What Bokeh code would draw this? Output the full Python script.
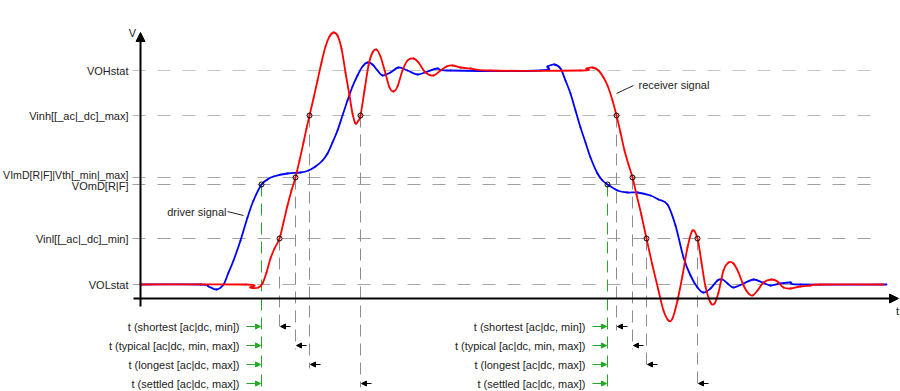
import numpy as np
from bokeh.plotting import figure
from bokeh.models import Range1d, Arrow, NormalHead, ColumnDataSource
from bokeh.core.properties import value
from bokeh.embed import file_html
from bokeh.resources import INLINE

# ---------------- data (t in time units, v in voltage units above t-axis) ----------
level_names = ["VOHstat", "Vinh[[_ac|_dc]_max]", "VImD[R|F]|Vth[_min|_max]",
               "VOmD[R|F]", "Vinl[[_ac|_dc]_min]", "VOLstat"]
level_v = [228, 183, 121, 114, 60, 14]
level_label_v = [228, 183, 124, 113, 60, 14]
level_label_size = ["11px", "11px", "10.6px", "11px", "11px", "11px"]
level_colors = ["#c4c4c4", "#b8b8b8", "#a8a8a8", "#a0a0a0", "#a0a0a0", "#a8a8a8"]

driver_t = [140, 200, 208, 216, 223, 228, 233, 240, 247, 253, 261, 267, 273, 287, 300,
            308, 315, 322, 327, 332, 337, 342, 347, 352, 357, 362, 367, 372, 377, 382,
            390, 398, 407, 417, 427, 437, 450, 540, 547, 554, 560, 565, 570, 575, 580,
            585, 590, 597, 602, 607, 617, 627, 637, 650, 658, 667, 675, 683, 690, 697,
            703, 710, 717, 722, 727, 733, 743, 753, 762, 770, 780, 790, 800, 886]
driver_v = [14, 14, 12, 9, 14, 26, 38, 58, 81, 98, 114, 119, 122, 125, 126,
            128, 132, 138, 145, 156, 168, 183, 198, 212, 223, 232, 236, 234, 228, 223,
            226, 231, 228, 224, 227, 230, 228, 228, 232, 234, 230, 218, 205, 188, 171,
            156, 141, 125, 118, 114, 108, 106, 106, 103, 99, 94, 73, 41, 23, 11,
            6, 10, 18, 19, 15, 11, 15, 19, 16, 13, 15, 16, 14, 14]

receiver_t = [140, 245, 250, 258, 262, 266, 270, 274, 279, 283, 287, 291, 295, 299, 303,
              306, 309, 313, 317, 321, 325, 329, 333, 337, 341, 345, 349, 352, 355, 358,
              360, 364, 368, 372, 376, 380, 385, 389, 393, 397, 402, 407, 413, 418, 425,
              433, 440, 446, 452, 460, 470, 490, 580, 586, 592, 598, 603, 607, 612, 616,
              620, 624, 628, 632, 636, 641, 646, 652, 658, 663, 668, 672, 677, 682, 687,
              692, 697, 701, 705, 710, 714, 718, 723, 728, 733, 738, 743, 748, 752, 757,
              763, 771, 777, 783, 790, 800, 810, 820, 883]
receiver_v = [14, 14, 11, 11, 15, 26, 40, 50, 60, 76, 93, 108, 121, 138, 156,
              170, 183, 200, 218, 236, 252, 262, 266, 263, 250, 226, 203, 185, 175, 178,
              183, 208, 233, 246, 249, 242, 225, 211, 207, 212, 228, 238, 240, 236, 226,
              223, 228, 232, 233, 231, 230, 228, 228, 230, 231, 228, 221, 213, 198, 183,
              166, 148, 134, 121, 104, 83, 60, 33, 8, -12, -22, -20, -2, 23, 51,
              68, 60, 36, 12, -4, -5, 6, 28, 36, 35, 26, 13, 5, 3, 8,
              16, 19, 17, 11, 10, 12, 13, 14, 14]

# reference crossings
driver_cross_t = [261, 607]
driver_cross_v = [114, 114]
# receiver crossings, per edge in row order: shortest, typical, longest, settled
rise_cross_t = [279, 295, 309, 360]
rise_cross_v = [60, 121, 183, 183]
fall_cross_t = [616, 632, 646, 697]
fall_cross_v = [183, 121, 60, 60]

row_labels = ["t (shortest [ac|dc, min])", "t (typical [ac|dc, min, max])",
              "t (longest [ac|dc, max])", "t (settled [ac|dc, max])"]
row_v = [-28, -47, -66, -85]

# ---------------- figure ----------------
FONT = value("Liberation Sans")
p = figure(width=900, height=391, x_range=Range1d(0, 900), y_range=Range1d(-93, 298),
           output_backend="svg", toolbar_location=None, x_axis_type=None, y_axis_type=None,
           min_border=0, outline_line_color=None)
p.grid.visible = False
p.background_fill_color = "white"
p.border_fill_color = "white"

# level lines and labels
for nm, v, lv, c, fs in zip(level_names, level_v, level_label_v, level_colors,
                            level_label_size):
    p.segment(x0=[132], y0=[v], x1=[881], y1=[v], line_color=c, line_width=1,
              line_dash="13 12")
    p.text(x=[128], y=[lv], text=[nm], text_font=FONT, text_font_size=fs,
           text_align="right", text_baseline="middle", text_color="#222")

# vertical marker lines (gray) for receiver crossings
vx, vy0, vy1 = [], [], []
for ts, vs in ((rise_cross_t, rise_cross_v), (fall_cross_t, fall_cross_v)):
    for t, v, r in zip(ts, vs, row_v):
        vx.append(t); vy0.append(v); vy1.append(r - 4)
p.segment(x0=vx, y0=vy0, x1=vx, y1=vy1, line_color="#8c8c8c", line_width=1,
          line_dash="12 7")
# green lines for driver crossings
p.segment(x0=driver_cross_t, y0=driver_cross_v, x1=driver_cross_t,
          y1=[row_v[-1] - 5] * 2, line_color="#22aa22", line_width=1, line_dash="12 7")

# axes
p.add_layout(Arrow(end=NormalHead(size=9, fill_color="black", line_color="black"),
                   x_start=140, y_start=-8, x_end=140, y_end=266,
                   line_width=2, line_color="black"))
p.add_layout(Arrow(end=NormalHead(size=9, fill_color="black", line_color="black"),
                   x_start=133, y_start=0, x_end=898, y_end=0, line_width=2,
                   line_color="black"))
p.text(x=[132, 897], y=[266, -12], text=["V", "t"], text_font=FONT, text_font_size="11px",
       text_align="center", text_baseline="middle", text_color="#222")


def catmull_bezier(xs, ys):
    x = np.asarray(xs, float)
    y = np.asarray(ys, float)
    n = len(x)
    xp = np.concatenate([[x[0]], x, [x[-1]]])
    yp = np.concatenate([[y[0]], y, [y[-1]]])
    x0, y0 = x[:-1], y[:-1]
    x1, y1 = x[1:], y[1:]
    cx0 = x0 + (xp[2:n + 1] - xp[0:n - 1]) / 6.0
    cy0 = y0 + (yp[2:n + 1] - yp[0:n - 1]) / 6.0
    cx1 = x1 - (xp[3:n + 2] - xp[1:n]) / 6.0
    cy1 = y1 - (yp[3:n + 2] - yp[1:n]) / 6.0
    return dict(x0=x0, y0=y0, x1=x1, y1=y1, cx0=cx0, cy0=cy0, cx1=cx1, cy1=cy1)


p.bezier(source=ColumnDataSource(catmull_bezier(driver_t, driver_v)),
         x0="x0", y0="y0", x1="x1", y1="y1", cx0="cx0", cy0="cy0", cx1="cx1", cy1="cy1",
         line_color="#0000ff", line_width=1.8, line_cap="round")
p.bezier(source=ColumnDataSource(catmull_bezier(receiver_t, receiver_v)),
         x0="x0", y0="y0", x1="x1", y1="y1", cx0="cx0", cy0="cy0", cx1="cx1", cy1="cy1",
         line_color="#ff0000", line_width=1.8, line_cap="round")

# crossing markers
mx = driver_cross_t + rise_cross_t + fall_cross_t
my = driver_cross_v + rise_cross_v + fall_cross_v
p.scatter(x=mx, y=my, marker="circle", size=5, fill_color=None, line_color="black",
          line_width=1)

# row labels
p.text(x=[239] * 4 + [585] * 4, y=row_v + row_v, text=row_labels + row_labels,
       text_font=FONT, text_font_size="11px", text_align="right", text_baseline="middle",
       text_color="#222")

# green arrows (start reference) and black arrows (end reference)
g_src = ColumnDataSource(dict(
    xs=[t - 15 for t in driver_cross_t for _ in row_v],
    xe=[t - 1 for t in driver_cross_t for _ in row_v],
    y=row_v + row_v))
p.add_layout(Arrow(end=NormalHead(size=5, fill_color="#22aa22", line_color="#22aa22"),
                   x_start="xs", y_start="y", x_end="xe", y_end="y", source=g_src,
                   line_color="#22aa22", line_width=1))
end_t = rise_cross_t + fall_cross_t
b_src = ColumnDataSource(dict(xs=[t + 11 for t in end_t], xe=[t + 1 for t in end_t],
                              y=row_v + row_v))
p.add_layout(Arrow(end=NormalHead(size=5, fill_color="black", line_color="black"),
                   x_start="xs", y_start="y", x_end="xe", y_end="y", source=b_src,
                   line_color="black", line_width=1))

# annotations
p.text(x=[226], y=[87], text=["driver signal"], text_font=FONT, text_font_size="11px",
       text_align="right", text_baseline="middle", text_color="#222")
p.segment(x0=[227], y0=[87], x1=[243], y1=[83], line_color="#222", line_width=1)
p.text(x=[638], y=[214], text=["receiver signal"], text_font=FONT, text_font_size="11px",
       text_align="left", text_baseline="middle", text_color="#222")
p.segment(x0=[633], y0=[213], x1=[616], y1=[205], line_color="#222", line_width=1)

open("out.html", "w").write(file_html(p, INLINE))
